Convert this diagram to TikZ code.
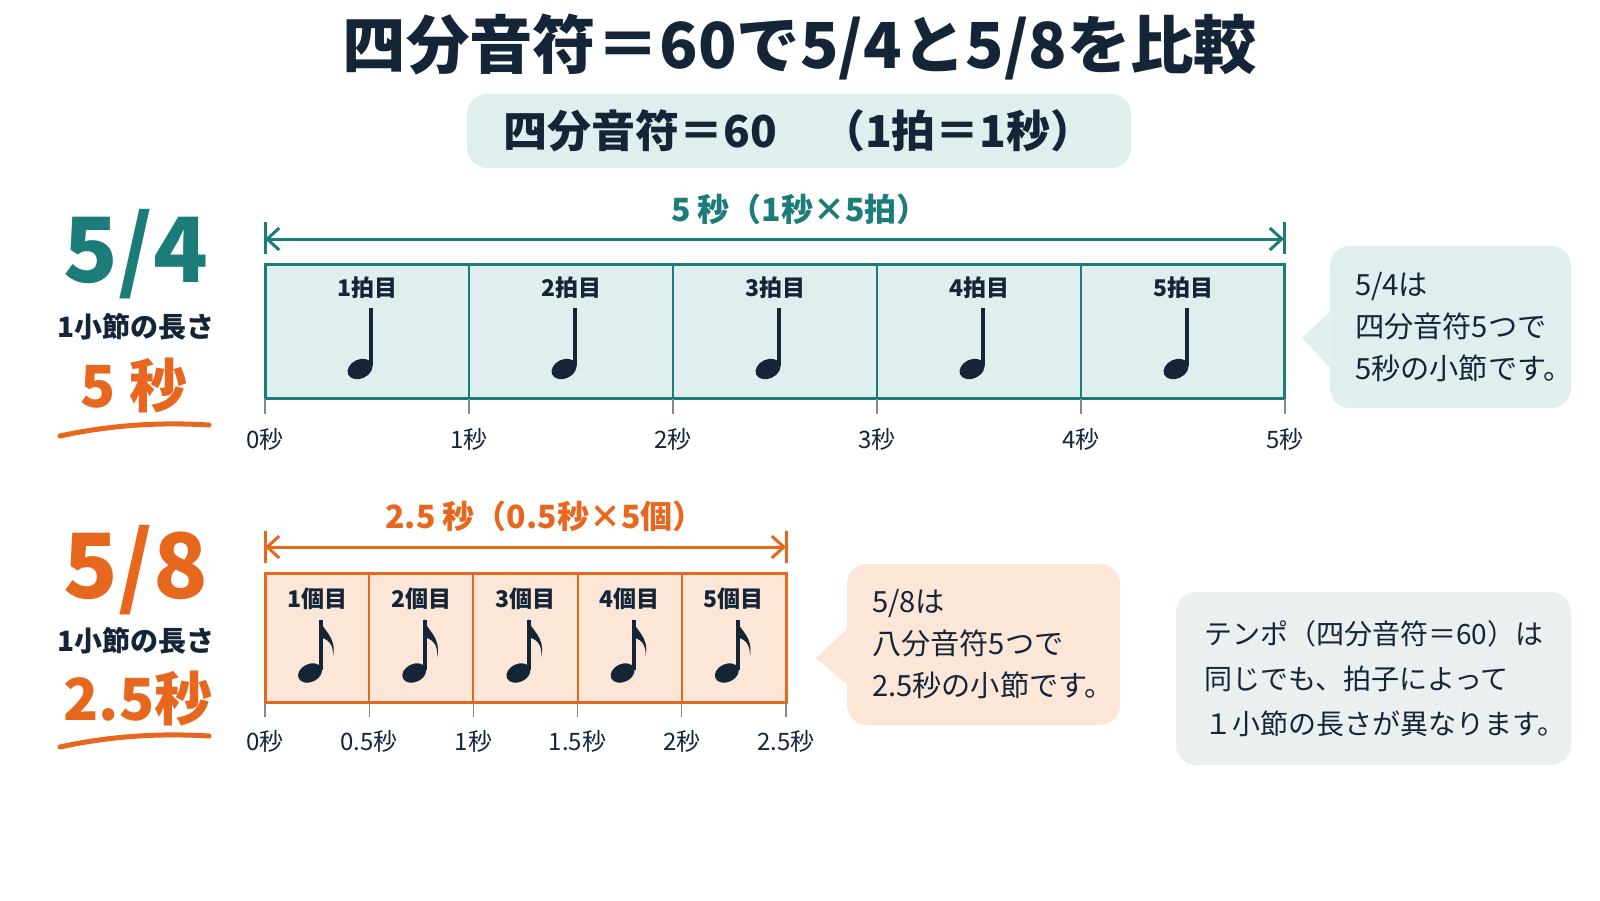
\documentclass[tikz,border=0pt]{standalone}
\usepackage{fontspec}
\setmainfont{Noto Sans CJK JP}
\usetikzlibrary{arrows.meta}

\definecolor{tealA}{RGB}{28,124,122}
\definecolor{tealfill}{RGB}{222,239,238}
\definecolor{orangeB}{RGB}{232,103,30}
\definecolor{peachfill}{RGB}{252,230,216}
\definecolor{ink}{RGB}{21,37,56}
\definecolor{grayfill}{RGB}{236,239,239}
\definecolor{tickgray}{RGB}{130,138,145}

% quarter note and eighth note, head centre at (#1,#2)
\newcommand\qnote[2]{%
  \fill[ink,shift={(#1,#2)},rotate=25] (0,0) ellipse [x radius=13,y radius=9.5];
  \draw[ink,line width=2pt] (#1+11,#2-3) -- (#1+11,#2-61);}
\newcommand\enote[2]{%
  \fill[ink,shift={(#1,#2)},rotate=25] (0,0) ellipse [x radius=12.5,y radius=9];
  \draw[ink,line width=2pt] (#1+11,#2-3) -- (#1+11,#2-53);
  \fill[ink] (#1+10,#2-54) .. controls (#1+12,#2-42) and (#1+27,#2-38) .. (#1+23,#2-16)
     .. controls (#1+24,#2-30) and (#1+17,#2-34) .. (#1+10,#2-36) -- cycle;}

\begin{document}
\begin{tikzpicture}[x=0.5pt,y=-0.5pt]
            \tikzstyle{headtext}=[text=ink, font=\fontsize{31.7}{36}\selectfont\bfseries]
            \tikzstyle{subtext}=[text=ink, font=\fontsize{22}{26}\selectfont\bfseries]
            \tikzstyle{sigtext}=[font=\fontsize{45}{50}\selectfont\bfseries]
            \tikzstyle{lentext}=[text=ink, font=\fontsize{14}{17}\selectfont\bfseries]
            \tikzstyle{sectext}=[text=orangeB, font=\fontsize{29}{34}\selectfont\bfseries]
            \tikzstyle{spantext}=[font=\fontsize{16}{19}\selectfont\bfseries]
            \tikzstyle{celltext}=[text=ink, font=\fontsize{11.5}{13}\selectfont\bfseries]
            \tikzstyle{ticktext}=[text=ink, font=\fontsize{12}{14}\selectfont]
            \tikzstyle{tickline}=[tickgray, line width=0.6pt]
            \tikzstyle{balloon}=[text=ink, align=left, rounded corners=10pt,
                font=\fontsize{14.6}{21}\selectfont, inner xsep=12.5pt, inner ysep=0pt]
            \tikzstyle{dimline}=[line width=1.5pt, {Straight Barb[length=6pt,width=11pt]}-{Straight Barb[length=6pt,width=11pt]}]

            \fill[white] (0,0) rectangle (1600,900);
            \useasboundingbox (0,0) rectangle (1600,900);

            % title and tempo
            \node[headtext] (title) at (800,47) {四分音符＝60で5/4と5/8を比較};
            \node[subtext, fill=tealfill, rounded corners=10pt, minimum width=332pt, minimum height=37pt] (tempo) at (799,131) {四分音符＝60　（1拍＝1秒）};

            % 5/4
            \node[sigtext, text=tealA] (sigA) at (136,254) {5/4};
            \node[lentext] (lenA) at (136,327) {1小節の長さ};
            \node[sectext] (secA) at (134,386) {5 秒};
            \draw[orangeB, line width=2.5pt, line cap=round] (60,436) .. controls (110,425) and (160,422) .. (209,425);

            \coordinate (spanAL) at (265,239);
            \coordinate (spanAR) at (1284,239);
            \draw[tealA, dimline] (spanAL) -- (spanAR);
            \draw[tealA, line width=1.5pt] (265,222) -- (265,254) (1284,222) -- (1284,254);
            \node[spantext, text=tealA] (spanA) at (800,209) {5 秒（1秒×5拍）};

            \draw[tealA, fill=tealfill, line width=1.5pt] (265,264) rectangle (1284,398);
            \foreach \k in {1,...,4}
                \draw[tealA, line width=1pt] (265+204*\k,264) -- (265+204*\k,398);
            \foreach \k in {0,...,5}{
                \draw[tickline] (265+204*\k,399) -- (265+204*\k,414);
                \node[ticktext] (tickA\k) at (265+204*\k,439) {\k{}秒};
            }
            \foreach \i in {1,...,5}{
                \pgfmathsetmacro\cx{265+204*(\i-1)+102}
                \node[celltext] (beatA\i) at (\cx,288) {\i{}拍目};
                \qnote{\cx-7}{369}
            }

            \node[balloon, fill=tealfill, text width=95.5pt, minimum height=81pt] (noteA) at (1450.5,327) {5/4は\\四分音符5つで\\5秒の小節です。};
            \coordinate (tipA) at (1302,338);
            \fill[tealfill] ([yshift=7.5pt]noteA.west) -- (tipA) -- ([yshift=-20pt]noteA.west) -- cycle;

            % 5/8
            \node[sigtext, text=orangeB] (sigB) at (136,570) {5/8};
            \node[lentext] (lenB) at (136,641) {1小節の長さ};
            \node[sectext] (secB) at (138,699) {2.5秒};
            \draw[orangeB, line width=2.5pt, line cap=round] (60,747) .. controls (110,736) and (160,733) .. (209,736);

            \coordinate (spanBL) at (265,547);
            \coordinate (spanBR) at (786,547);
            \draw[orangeB, dimline] (spanBL) -- (spanBR);
            \draw[orangeB, line width=1.5pt] (265,531) -- (265,563) (786,531) -- (786,563);
            \node[spantext, text=orangeB] (spanB) at (545,516) {2.5 秒（0.5秒×5個）};

            \draw[orangeB, fill=peachfill, line width=1.5pt] (265,573) rectangle (786,702);
            \foreach \k in {1,...,4}
                \draw[orangeB, line width=1pt] (265+104.2*\k,573) -- (265+104.2*\k,702);
            \foreach \t [count=\k from 0] in {0秒,0.5秒,1秒,1.5秒,2秒,2.5秒}{
                \draw[tickline] (265+104.2*\k,703) -- (265+104.2*\k,717);
                \node[ticktext] (tickB\k) at (265+104.2*\k,741) {\t};
            }
            \foreach \i in {1,...,5}{
                \pgfmathsetmacro\cx{265+104.2*(\i-1)+52}
                \node[celltext] (eighthB\i) at (\cx,599) {\i{}個目};
                \enote{\cx-7}{673}
            }

            \node[balloon, fill=peachfill, text width=111.5pt, minimum height=80.5pt] (noteB) at (983.5,644.5) {5/8は\\八分音符5つで\\2.5秒の小節です。};
            \coordinate (tipB) at (816,658);
            \fill[peachfill] ([yshift=7.5pt]noteB.west) -- (tipB) -- ([yshift=-20pt]noteB.west) -- cycle;

            % summary
            \node[balloon, fill=grayfill, font=\fontsize{14}{22.5}\selectfont, inner xsep=14pt, text width=169.5pt, minimum height=86.5pt] (summary) at (1373.5,678.5) {テンポ（四分音符＝60）は\\同じでも、拍子によって\\１小節の長さが異なります。};
\end{tikzpicture}
\end{document}
